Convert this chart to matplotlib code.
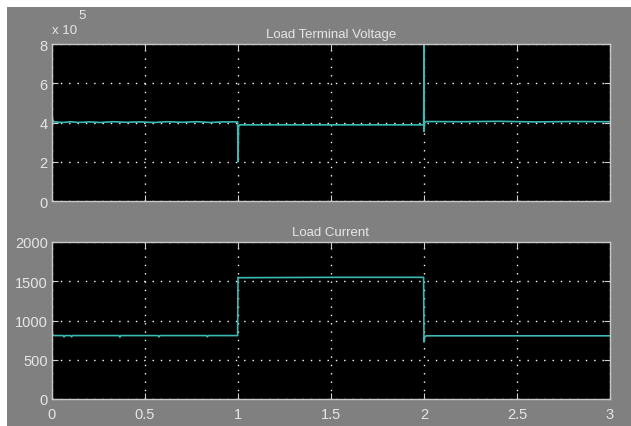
import matplotlib
matplotlib.use("Agg")
import matplotlib.pyplot as plt
from matplotlib.ticker import FuncFormatter
from matplotlib.patches import Rectangle

# ---- data ----
t_voltage = [0.0, 0.0, 0.004, 0.012, 0.06, 0.10, 0.14, 0.20, 0.26, 0.33, 0.40, 0.47,
             0.55, 0.62, 0.70, 0.78, 0.85, 0.92, 0.998, 1.0, 1.003, 1.01, 1.5, 1.998,
             2.0, 2.0, 2.003, 2.012, 2.2, 2.4, 2.6, 2.8, 3.0]
v_voltage = [0.0, 4.35e5, 4.12e5, 4.03e5, 4.00e5, 4.04e5, 4.00e5, 4.03e5, 4.00e5, 4.04e5,
             4.01e5, 4.03e5, 4.00e5, 4.04e5, 4.01e5, 4.04e5, 4.00e5, 4.03e5, 4.03e5,
             2.0e5, 3.80e5, 3.88e5, 3.88e5, 3.88e5,
             8.0e5, 3.55e5, 3.98e5, 4.05e5, 4.04e5, 4.06e5, 4.03e5, 4.05e5, 4.04e5]

t_current = [0.0, 0.0, 0.004, 0.012, 0.06, 0.065, 0.07, 0.10, 0.105, 0.11, 0.36, 0.365,
             0.37, 0.57, 0.575, 0.58, 0.83, 0.835, 0.84, 0.998, 1.0, 1.005, 1.5, 1.998,
             2.0, 2.004, 2.012, 2.5, 3.0]
i_current = [0.0, 850, 815, 808, 808, 790, 808, 808, 792, 808, 808, 788,
             808, 808, 790, 808, 808, 792, 808, 808, 1550, 1545, 1550, 1550,
             725, 790, 805, 805, 805]

x_ticks = [0, 0.5, 1, 1.5, 2, 2.5, 3]
v_ticks = [0, 2e5, 4e5, 6e5, 8e5]
i_ticks = [0, 500, 1000, 1500, 2000]
titles = ["Load Terminal Voltage", "Load Current"]

# ---- style ----
BG = "#808080"
FG = "#e6e6e6"
LINE = "#3bbab3"
FONT = "Liberation Sans"

fig = plt.figure(figsize=(6.31, 4.27), dpi=100, facecolor="white")
bgrect = Rectangle((7 / 631, 0), 1, 1 - 8 / 427, transform=fig.transFigure,
                   facecolor=BG, edgecolor="none", zorder=-10)
fig.add_artist(bgrect)

left, width = 52 / 631, (610 - 52) / 631
h = (202 - 45) / 427
ax1 = fig.add_axes([left, 1 - 202 / 427, width, h])
ax2 = fig.add_axes([left, 1 - 400 / 427, width, h])

ax1.plot(t_voltage, v_voltage, color=LINE, lw=1.2)
ax2.plot(t_current, i_current, color=LINE, lw=1.2)

for ax, yt, title in [(ax1, v_ticks, titles[0]), (ax2, i_ticks, titles[1])]:
    ax.set_facecolor("black")
    ax.set_xlim(0, 3)
    ax.set_ylim(yt[0], yt[-1])
    ax.set_xticks(x_ticks)
    ax.set_yticks(yt)
    ax.grid(True, color="white", linestyle=(0, (1, 5)), linewidth=1.0)
    ax.tick_params(direction="in", length=4, color="#d0d0d0", labelcolor=FG,
                   labelsize=10.5, top=True, right=True, pad=3)
    ax.tick_params(axis="x", pad=6)
    for s in ax.spines.values():
        s.set_color("#c8c8c8")
        s.set_linewidth(1.0)
    ax.set_title(title, color=FG, fontsize=9.5, family=FONT, pad=5)

ax1.yaxis.set_major_formatter(FuncFormatter(lambda v, p: f"{v / 1e5:g}"))
ax1.tick_params(labelbottom=False)
ax2.xaxis.set_major_formatter(FuncFormatter(lambda v, p: f"{v:g}"))
fig.canvas.draw()
for ax in (ax1, ax2):
    for lbl in ax.get_xticklabels() + ax.get_yticklabels():
        lbl.set_fontfamily(FONT)

fig.text(52 / 631, 1 - 31 / 427, "x 10", color=FG, fontsize=9.5, family=FONT,
         ha="left", va="center")
fig.text(78 / 631, 1 - 16 / 427, "5", color=FG, fontsize=9.5, family=FONT,
         ha="left", va="center")

fig.savefig("out.png", dpi=100, facecolor=fig.get_facecolor())
